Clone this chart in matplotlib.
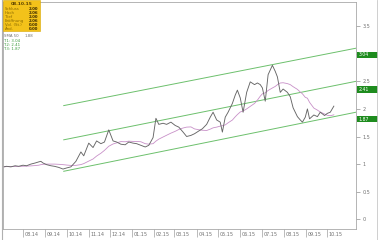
import matplotlib
matplotlib.use("Agg")
import matplotlib.pyplot as plt
import matplotlib.dates as mdates
import matplotlib.transforms as mtransforms
from matplotlib.patches import Rectangle
import pandas as pd

# ---- data ----
dates = ["2014-07-05","2014-07-09","2014-07-15","2014-07-21","2014-07-26","2014-08-01","2014-08-06","2014-08-12",
         "2014-08-18","2014-08-23","2014-08-26","2014-08-29","2014-09-03","2014-09-09","2014-09-14","2014-09-20",
         "2014-09-26","2014-10-01","2014-10-07","2014-10-14","2014-10-21","2014-10-25","2014-11-01","2014-11-07",
         "2014-11-12","2014-11-18","2014-11-23","2014-11-29","2014-12-05","2014-12-10","2014-12-16","2014-12-22",
         "2014-12-27","2015-01-02","2015-01-07","2015-01-13","2015-01-19","2015-01-24","2015-01-30","2015-02-03",
         "2015-02-07","2015-02-13","2015-02-18","2015-02-24","2015-03-02","2015-03-07","2015-03-13","2015-03-18",
         "2015-03-24","2015-03-29","2015-04-04","2015-04-09","2015-04-15","2015-04-20","2015-04-24","2015-04-29",
         "2015-05-04","2015-05-07","2015-05-11","2015-05-15","2015-05-21","2015-05-25","2015-05-28","2015-06-01",
         "2015-06-05","2015-06-10","2015-06-15","2015-06-21","2015-06-25","2015-06-29","2015-07-02","2015-07-06",
         "2015-07-10","2015-07-16","2015-07-20","2015-07-23","2015-07-27","2015-07-31","2015-08-06","2015-08-10",
         "2015-08-14","2015-08-20","2015-08-24","2015-08-27","2015-08-31","2015-09-03","2015-09-06","2015-09-12",
         "2015-09-17","2015-09-21","2015-09-27","2015-10-01","2015-10-05","2015-10-10"]
price = [0.95, 0.96, 0.95, 0.97, 0.96, 0.98, 0.97, 1.00,
         1.02, 1.04, 1.05, 1.02, 0.99, 0.97, 0.96, 0.94,
         0.91, 0.93, 0.95, 1.05, 1.22, 1.15, 1.38, 1.30,
         1.42, 1.37, 1.40, 1.62, 1.42, 1.40, 1.36, 1.35,
         1.40, 1.38, 1.37, 1.34, 1.31, 1.34, 1.48, 1.83,
         1.72, 1.74, 1.72, 1.76, 1.70, 1.67, 1.58, 1.50,
         1.52, 1.55, 1.60, 1.64, 1.72, 1.85, 1.94, 1.80,
         1.76, 1.58, 1.85, 1.94, 2.10, 2.25, 2.34, 2.20,
         1.94, 2.30, 2.49, 2.44, 2.47, 2.44, 2.38, 2.14,
         2.62, 2.79, 2.68, 2.58, 2.30, 2.36, 2.30, 2.22,
         2.02, 1.86, 1.80, 1.76, 1.85, 2.00, 1.82, 1.89,
         1.86, 1.94, 1.88, 1.92, 1.94, 2.05]

channel_dates = ["2014-09-27", "2015-11-10"]
channel_top = [2.06, 3.10]
channel_mid = [1.44, 2.50]
channel_low = [0.87, 1.94]
target_labels = ["3.04", "2.41", "1.87"]
target_values = [3.04, 2.41, 1.87]

month_ticks = ["2014-08-01","2014-09-01","2014-10-01","2014-11-01","2014-12-01","2015-01-01","2015-02-01",
               "2015-03-01","2015-04-01","2015-05-01","2015-06-01","2015-07-01","2015-08-01","2015-09-01","2015-10-01"]
y_ticks = [0, 0.5, 1, 1.5, 2, 2.5, 3, 3.5]
y_ticklabels = ["0", "0.5", "1", "1.5", "2", "2.5", "", "3.5"]

info_rows = [("Schluss", "2.00"), ("Hoch", "2.06"), ("Tief", "2.00"), ("Eröffnung", "2.06"), ("Vol. (St.)", "0.00"), ("Änd.", "0.00")]

# ---- figure ----
W, H = 380, 240
fig = plt.figure(figsize=(3.8, 2.4), dpi=100)
fig.patch.set_facecolor("white")
ax = fig.add_axes([3 / W, 11 / H, 353 / W, 227 / H])

s = pd.Series(price, index=pd.to_datetime(dates))
ma = s.rolling("50D", min_periods=1).mean()

cd = pd.to_datetime(channel_dates)
gc = "#6cc06c"
ax.plot(cd, channel_top, color=gc, lw=0.7)
ax.plot(cd, channel_mid, color=gc, lw=0.7)
ax.plot(cd, channel_low, color=gc, lw=0.7)
ax.plot(ma.index, ma.values, color="#c890c8", lw=0.6)
ax.plot(s.index, s.values, color="#666666", lw=0.65)

ax.set_xlim(pd.Timestamp("2014-07-04"), pd.Timestamp("2015-11-10"))
ax.set_ylim(-0.176, 3.937)

for sp in ax.spines.values():
    sp.set_color("#a8a8a8")
    sp.set_linewidth(0.6)

ax.yaxis.tick_right()
ax.set_yticks(y_ticks)
ax.set_yticklabels(y_ticklabels)
ax.tick_params(axis="y", direction="out", length=3, width=0.5, color="#909090",
               labelsize=3.5, labelcolor="#707070", pad=1.5)

ax.set_xticks(pd.to_datetime(month_ticks))
ax.xaxis.set_major_formatter(mdates.DateFormatter("%m.%y"))
ax.tick_params(axis="x", direction="out", length=6, width=0.5, color="#a0a0a0",
               labelsize=3.5, labelcolor="#707070", pad=-3.8)
offset = mtransforms.ScaledTranslation(1.5 / 100, 0, fig.dpi_scale_trans)
for lab in ax.get_xticklabels():
    lab.set_horizontalalignment("left")
    lab.set_transform(lab.get_transform() + offset)

# target boxes on right axis
trans = mtransforms.blended_transform_factory(ax.transAxes, ax.transData)
for v in target_values:
    ax.add_patch(Rectangle((1.003, v - 0.115), 0.058, 0.115, transform=trans, fc="#1e8c1e", ec="none",
                           clip_on=False, zorder=2))
for lbl, v in zip(target_labels, target_values):
    ax.text(1.008, v - 0.058, lbl, transform=trans, ha="left", va="center", fontsize=3.3,
            color="white", zorder=3, clip_on=False)

# info box (top-left)
fig.add_artist(Rectangle((3 / W, 1 - 31 / H), 37 / W, 31 / H, transform=fig.transFigure,
                         fc="#f3c21a", ec="#d9a800", lw=0.4, zorder=5))
fig.text(21.5 / W, 1 - 4 / H, "08.10.15", ha="center", va="center", fontsize=3.2,
         fontweight="bold", color="#5a4000", zorder=6)
for i, (k, v) in enumerate(info_rows):
    yy = 1 - (9 + i * 4.1) / H
    fig.text(5 / W, yy, k, ha="left", va="center", fontsize=2.8, color="#8a6a00", zorder=6)
    fig.text(38 / W, yy, v, ha="right", va="center", fontsize=2.8, fontweight="bold",
             color="#3a2a00", zorder=6)

fig.text(4 / W, 1 - 36 / H, "SMA 50", ha="left", va="center", fontsize=2.8, color="#707070")
fig.text(25 / W, 1 - 36 / H, "1.88", ha="left", va="center", fontsize=2.8, color="#707070")
for i, (lbl) in enumerate(target_labels):
    fig.text(4 / W, 1 - (40.5 + i * 4.3) / H, f"T{i+1}: {lbl}", ha="left", va="center",
             fontsize=2.8, color="#3a9a3a")

# frame lines
fig.add_artist(plt.Line2D([2 / W, 2 / W], [0, 1], transform=fig.transFigure, color="#b0b0b0", lw=0.8))
fig.add_artist(plt.Line2D([377 / W, 377 / W], [0, 1], transform=fig.transFigure, color="#c8c8c8", lw=0.6))

fig.savefig("out.png", dpi=100, facecolor="white")
